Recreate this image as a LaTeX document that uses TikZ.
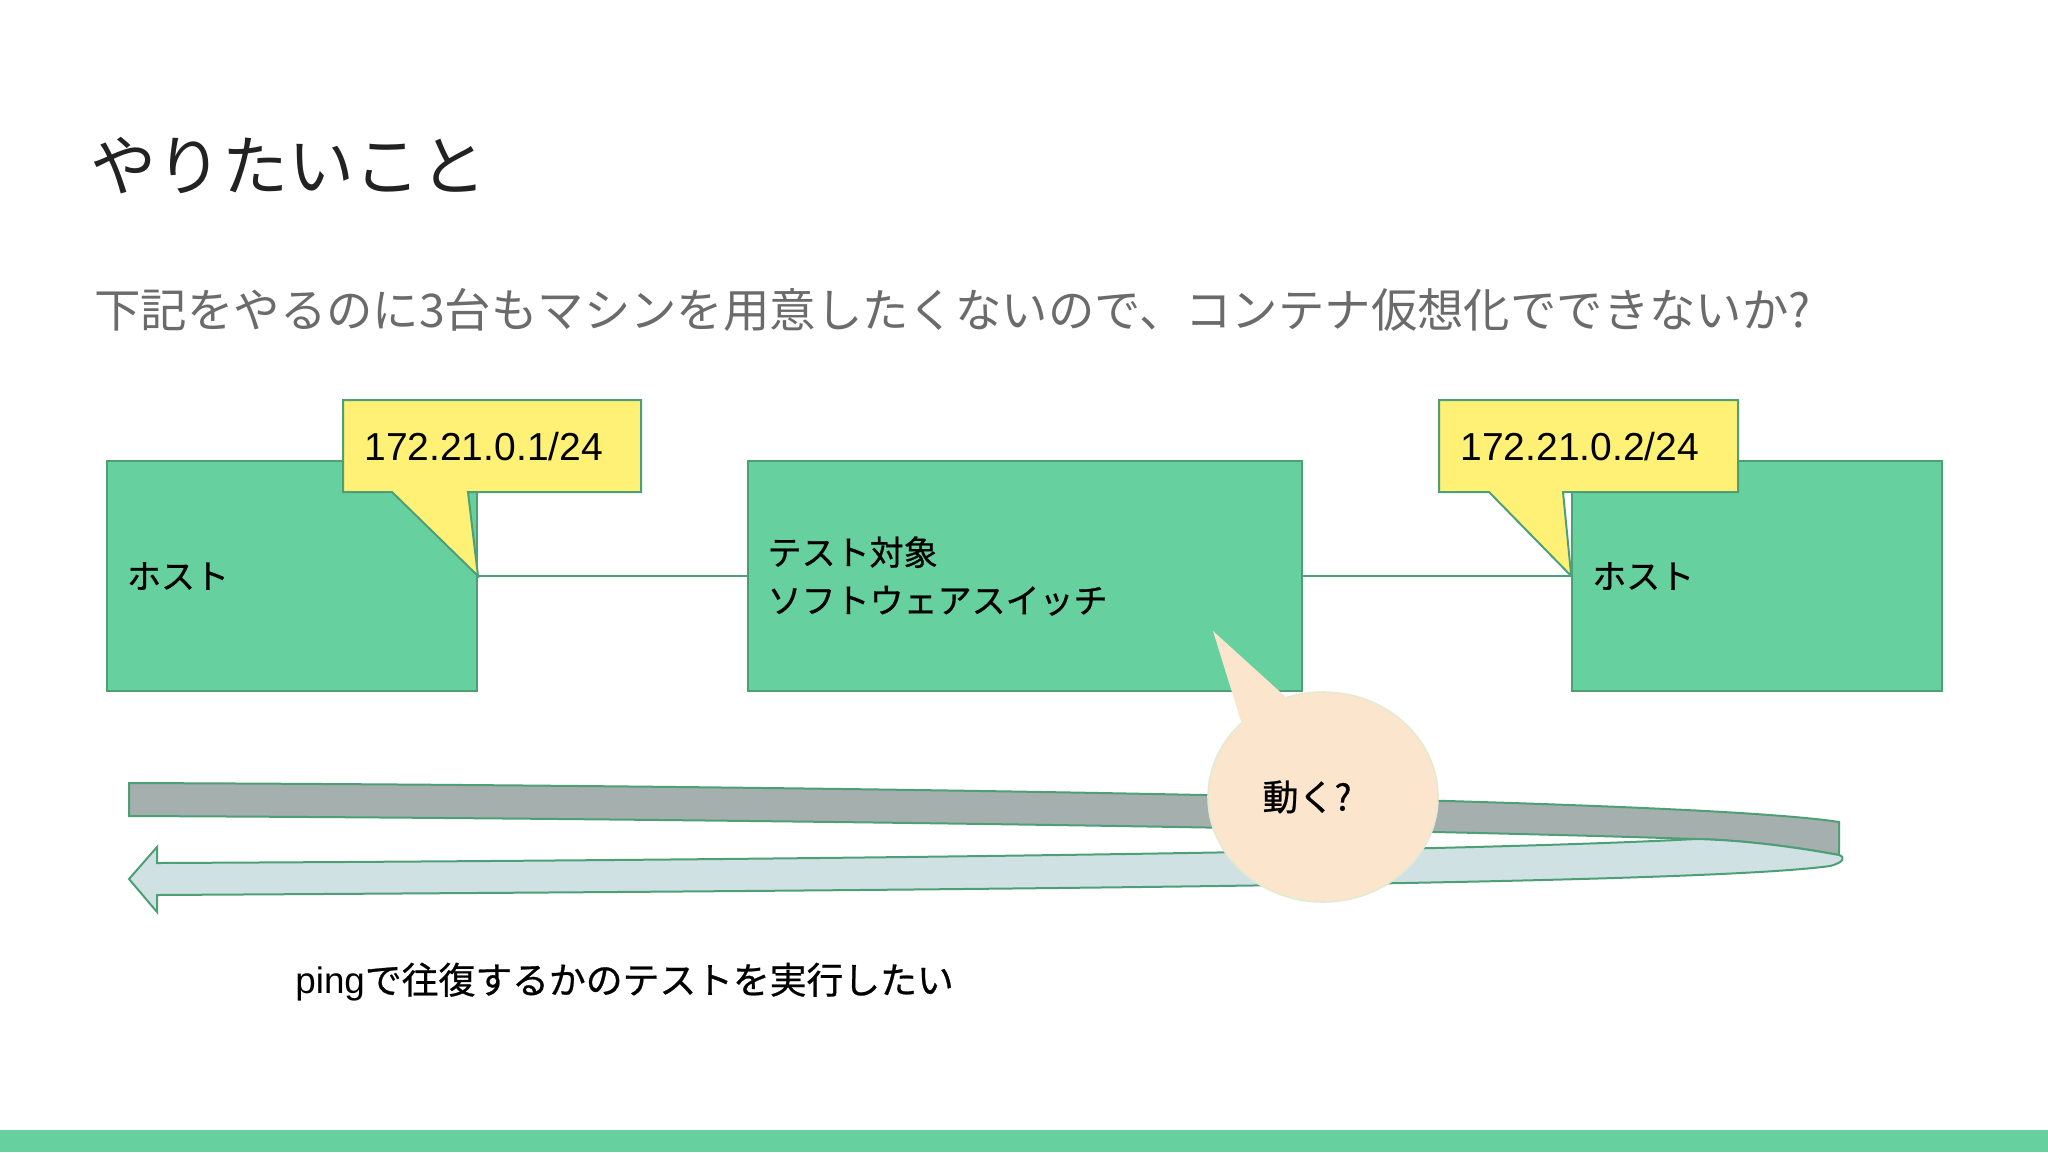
\documentclass[tikz,border=0pt]{standalone}
\usepackage{fontspec}
\setmainfont{Liberation Sans}
\newfontfamily\jp{Noto Sans CJK JP}
\newfontfamily\jpm{Noto Sans CJK JP}[FakeBold=0.7]
\usetikzlibrary{positioning, shapes.geometric, calc}
\definecolor{hostgreen}{HTML}{66D19E}
\definecolor{edgegreen}{HTML}{4E9F76}
\definecolor{memoyellow}{HTML}{FFF176}
\definecolor{ringback}{HTML}{A4AFAE}
\definecolor{ringfront}{HTML}{D0E1E4}
\definecolor{peach}{HTML}{FCE5CD}
\definecolor{peachline}{HTML}{E4EAD2}
\definecolor{ink}{HTML}{222222}
\definecolor{lead}{HTML}{6B6B6B}

\begin{document}
\begin{tikzpicture}[x=0.5pt, y=-0.5pt,
    box/.style={draw=edgegreen, fill=hostgreen, line width=1pt, align=left, inner xsep=10pt,
      minimum height=115pt, font=\jpm\fontsize{17}{24}\selectfont},
    host/.style={box, text width=165pt},
    memo/.style={draw=edgegreen, fill=memoyellow, line width=1pt},
    ip/.style={font=\fontsize{19.5}{23}\selectfont, inner sep=0pt, anchor=west},
    ring/.style={draw=edgegreen, line width=1pt},
    bubble/.style={ellipse, fill=peach, draw=peachline, line width=0.8pt, minimum width=115pt,
      minimum height=105pt, inner sep=0pt, font=\jpm\fontsize{18}{22}\selectfont}]
  \useasboundingbox (0,0) rectangle (2048,1152);
  \fill[hostgreen] (0,1130) rectangle (2048,1152);

  \node[anchor=west, inner sep=0pt, text=ink, font=\jp\fontsize{33}{40}\selectfont] (title) at (90,166) {やりたいこと};
  \node[anchor=west, inner sep=0pt, text=lead, font=\jp\fontsize{23.2}{28}\selectfont] (note) at (94,310)
    {下記をやるのに3台もマシンを用意したくないので、コンテナ仮想化でできないか?};

  % ping round trip
  \filldraw[ring, fill=ringback] (129,783) .. controls (900,786) and (1700,800) .. (1839,822) -- (1839,855)
    .. controls (1790,846) and (1740,840) .. (1696,839) .. controls (1300,826) and (600,818) .. (129,816) -- cycle;
  \filldraw[ring, fill=ringfront] (1839,855) .. controls (1790,846) and (1740,840) .. (1696,839)
    .. controls (1450,852) and (800,860) .. (157,863) -- (157,847) -- (129,879) -- (157,912) -- (157,895)
    .. controls (1000,890) and (1700,884) .. (1830,866) .. controls (1845,862) and (1845,857) .. (1839,855) -- cycle;

  \node[host] (hl) at (292,576) {ホスト};
  \node[box, text width=257pt, right=134.3pt of hl] (sw) {テスト対象\\ソフトウェアスイッチ};
  \node[host, right=134.3pt of sw] (hr) {ホスト};

  \draw[edgegreen, line width=0.8pt] (hl.east) -- (sw.west);
  \draw[edgegreen, line width=0.8pt] (sw.east) -- (hr.west);

  \path[memo] (343,400) -- (641,400) -- (641,492) -- (468,492) -- (hl.east) -- (392,492) -- (343,492) -- cycle;
  \node[ip] (ipa) at (364,447) {172.21.0.1/24};
  \path[memo] (1439,400) -- (1738,400) -- (1738,492) -- (1563,492) -- (hr.west) -- (1489,492) -- (1439,492) -- cycle;
  \node[ip] (ipb) at (1460,447) {172.21.0.2/24};

  \node[anchor=west, inner sep=0pt, font=\fontsize{18.4}{23}\selectfont] (cap) at (295,982)
    {ping{\jpm で往復するかのテストを実行したい}};

  \coordinate (tip) at (1213,631);
  \node[bubble] (q) at (1323,797) {動く?\kern 16pt};
  \fill[peach] (tip) -- ($(q.center)+(-79,-66)$) -- ($(q.center)+(-23,-87)$) -- cycle;
\end{tikzpicture}
\end{document}
